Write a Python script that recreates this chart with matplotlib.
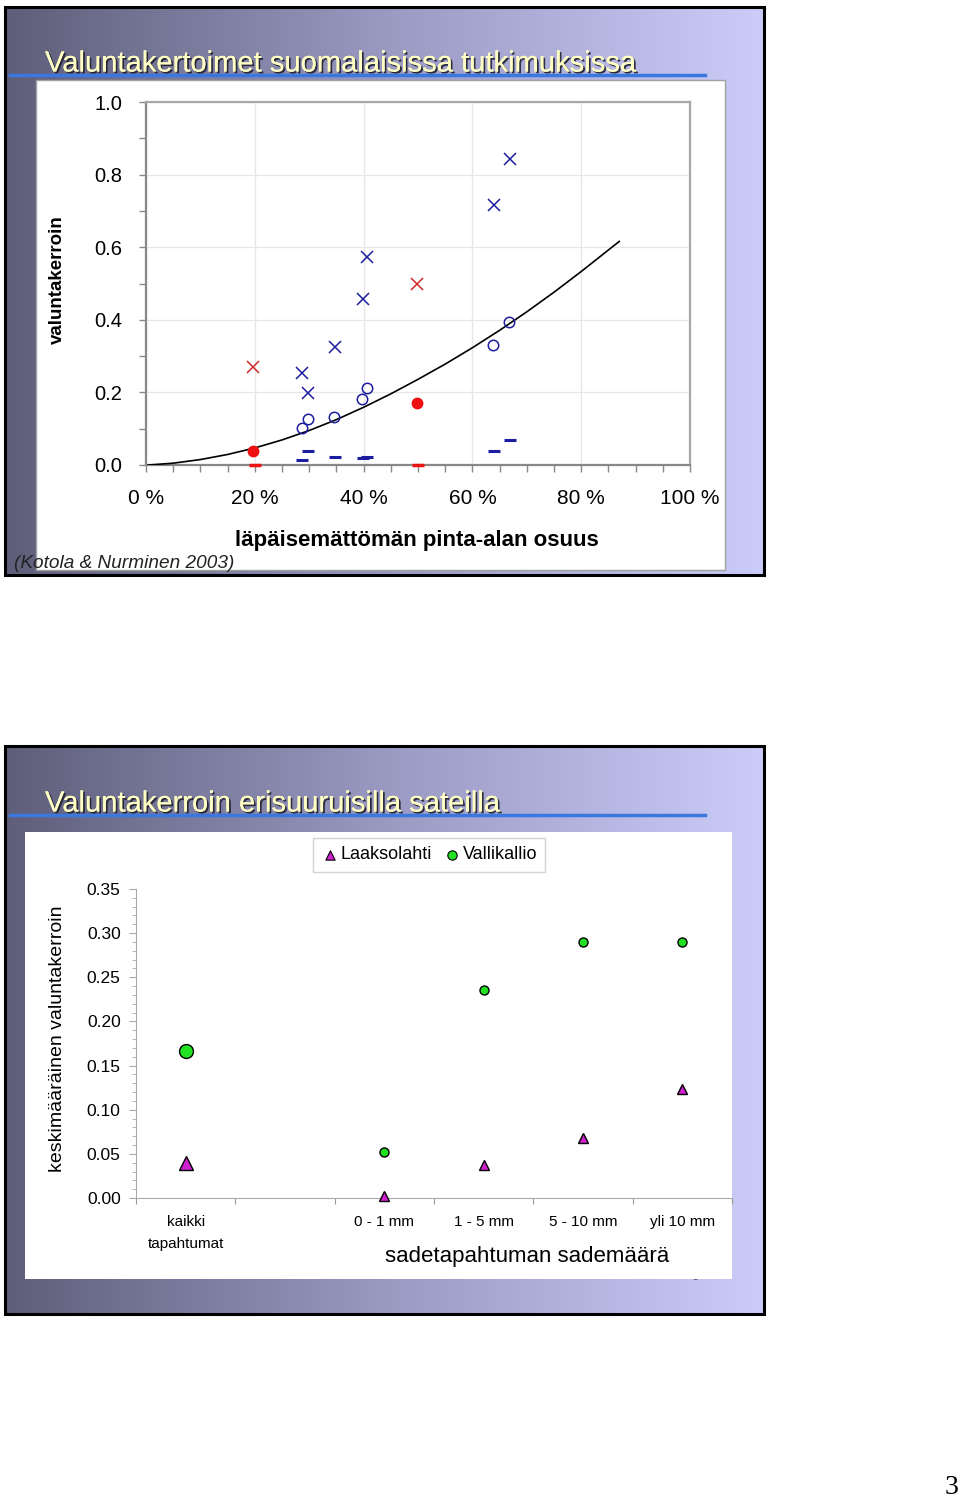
import numpy as np
import matplotlib
matplotlib.use("Agg")
import matplotlib.pyplot as plt
import matplotlib.patheffects as pe
from matplotlib.colors import LinearSegmentedColormap
from matplotlib.patches import Rectangle
from matplotlib.ticker import MultipleLocator, FixedLocator, NullFormatter

W, H = 960, 1498
plt.rcParams['font.family'] = ['Liberation Sans', 'DejaVu Sans']

# --- slide 1: runoff coefficient vs impervious share (%) ---
xcross_blue = [28.6, 29.8, 34.7, 39.8, 40.7, 63.9, 66.9]
ycross_blue = [0.253, 0.199, 0.324, 0.457, 0.574, 0.715, 0.842]
xcross_red = [19.7, 49.9]
ycross_red = [0.271, 0.499]
xring_blue = [28.6, 29.8, 34.6, 39.7, 40.6, 63.8, 66.7]
yring_blue = [0.102, 0.128, 0.133, 0.183, 0.211, 0.330, 0.393]
xdot_red = [19.6, 49.8]
ydot_red = [0.038, 0.172]
xdash_blue = [28.6, 29.8, 34.7, 39.8, 40.7, 63.9, 66.9]
ydash_blue = [0.014, 0.038, 0.023, 0.020, 0.022, 0.038, 0.070]
xdash_red = [20.0, 50.0]
ydash_red = [0.0, 0.0]
curve_x = [0.4, 5, 10, 15, 20, 25, 30, 35, 40, 45, 50, 55, 60, 65, 70, 75, 80, 87]
curve_y = [0.0, 0.005, 0.015, 0.029, 0.047, 0.069, 0.095, 0.125, 0.159, 0.196, 0.236,
           0.278, 0.323, 0.371, 0.422, 0.476, 0.533, 0.616]

# --- slide 2: mean runoff coefficient by rain amount ---
categories = ["kaikki\ntapahtumat", "", "0 - 1 mm", "1 - 5 mm", "5 - 10 mm", "yli 10 mm"]
laaksolahti = [0.040, None, 0.002, 0.037, 0.068, 0.123]
vallikallio = [0.167, None, 0.052, 0.236, 0.290, 0.290]


def box(l, t, r, b):
    return [l / W, 1 - b / H, (r - l) / W, (b - t) / H]


fig = plt.figure(figsize=(W / 100, H / 100), dpi=100)
fig.patch.set_facecolor('white')

bg = fig.add_axes([0, 0, 1, 1])
bg.set_xlim(0, W)
bg.set_ylim(H, 0)
bg.axis('off')

grad = LinearSegmentedColormap.from_list(
    'slide', [(0.37, 0.37, 0.48), (0.60, 0.60, 0.76), (0.80, 0.80, 0.98)])
title_fx = [pe.withSimplePatchShadow(offset=(1.3, -1.3), shadow_rgbFace='#202030', alpha=0.9),
            pe.Normal()]
narrow = ['Liberation Sans Narrow', 'Liberation Sans', 'DejaVu Sans']

for (top, bot, title, ty, ly) in [(7, 575, "Valuntakertoimet suomalaisissa tutkimuksissa", 62, 75),
                                  (746, 1314, "Valuntakerroin erisuuruisilla sateilla", 802, 815)]:
    bg.imshow(np.linspace(0, 1, 256).reshape(1, -1), cmap=grad, aspect='auto',
              extent=(5, 764, bot, top), zorder=0)
    bg.add_patch(Rectangle((5, top), 759, bot - top, fill=False, ec='black', lw=2.2, zorder=5))
    bg.text(45, ty + 1.5, title, fontsize=21, color='#ffffc4', family=narrow,
            va='center', ha='left', path_effects=title_fx, zorder=3)
    bg.plot([10, 705], [ly, ly], color='#3a78e0', lw=2.5, zorder=2)

# white chart panels
bg.add_patch(Rectangle((36, 80), 689, 490, fc='white', ec='#a0a0a0', lw=1, zorder=2))
bg.text(695, 1277, "6", fontsize=9, color='#555555', ha='center', va='center', zorder=1.5)
bg.add_patch(Rectangle((25, 832), 707, 447, fc='white', ec='none', zorder=2))

bg.text(14, 563, "(Kotola & Nurminen 2003)", fontsize=13.7, style='italic', family=narrow,
        color='#222222', ha='left', va='center', zorder=4)
bg.text(951, 1487, "3", fontsize=20, family=['Liberation Serif', 'DejaVu Serif'],
        ha='center', va='center', zorder=4)

# ---- top chart ----
ax1 = fig.add_axes(box(146, 102, 690, 465))
ax1.set_xlim(0, 100)
ax1.set_ylim(0, 1.0)
ax1.plot(curve_x, curve_y, color='black', lw=1.2, zorder=3)
ax1.plot(xcross_blue, ycross_blue, 'x', color='#1c1ca0', ms=8, mew=1.1, zorder=4)
ax1.plot(xcross_red, ycross_red, 'x', color='#d02828', ms=8, mew=1.1, zorder=4)
ax1.plot(xring_blue, yring_blue, 'o', mfc='none', mec='#1c1ca0', ms=7.5, mew=1.1, zorder=4)
ax1.plot(xdot_red, ydot_red, 'o', color='#ee1111', ms=7.5, zorder=4)
ax1.plot(xdash_blue, ydash_blue, '_', color='#1c1ca0', ms=8, mew=2.2, zorder=4)
ax1.plot(xdash_red, ydash_red, '_', color='#ee1111', ms=8, mew=2.5, zorder=4, clip_on=False)
ax1.xaxis.set_minor_locator(MultipleLocator(5))
ax1.yaxis.set_major_locator(MultipleLocator(0.2))
ax1.yaxis.set_minor_locator(MultipleLocator(0.1))
ax1.set_xticks([0, 20, 40, 60, 80, 100])
ax1.set_xticklabels(["0 %", "20 %", "40 %", "60 %", "80 %", "100 %"])
ax1.yaxis.set_major_formatter(matplotlib.ticker.FormatStrFormatter('%.1f'))
ax1.grid(True, which='major', color='#e6e6e6', lw=0.9, zorder=0)
ax1.tick_params(which='both', direction='out', color='#888888', length=5, width=1)
ax1.tick_params(axis='x', labelsize=15, pad=12)
ax1.tick_params(axis='y', labelsize=14.5, pad=12)
for s in ax1.spines.values():
    s.set_color('#a8a8a8')
    s.set_linewidth(1.6)
ax1.spines['left'].set_color('#888888')
ax1.spines['bottom'].set_color('#888888')
ax1.set_zorder(3)
ax1.set_xlabel("läpäisemättömän pinta-alan osuus", fontsize=16, fontweight='bold')
ax1.xaxis.set_label_coords((417 - 146) / 544, -(530 - 465) / 363)
ax1.set_ylabel("valuntakerroin", fontsize=13.5, fontweight='bold')
ax1.yaxis.set_label_coords(-(146 - 66) / 544, (465 - 280) / 363)

# ---- bottom chart ----
ax2 = fig.add_axes(box(136, 889, 732, 1198))
ax2.set_zorder(3)
ax2.patch.set_alpha(0)
ax2.set_xlim(0, len(categories))
ax2.set_ylim(0, 0.35)
for i, (lv, vv) in enumerate(zip(laaksolahti, vallikallio)):
    if lv is None:
        continue
    big = i == 0
    ax2.plot(i + 0.5, vv, 'o', mfc='#22e022', mec='black', mew=1.0,
             ms=10 if big else 6.5, zorder=4, clip_on=False)
    ax2.plot(i + 0.5, lv, '^', mfc='#d020d0', mec='black', mew=1.0,
             ms=9.5 if big else 6.5, zorder=4, clip_on=False)
ax2.xaxis.set_major_locator(FixedLocator(range(len(categories) + 1)))
ax2.xaxis.set_major_formatter(NullFormatter())
ax2.xaxis.set_minor_locator(FixedLocator([i + 0.5 for i in range(len(categories))]))
ax2.set_xticklabels(categories, minor=True, linespacing=1.75)
ax2.tick_params(axis='x', which='minor', length=0, labelsize=11, pad=12)
ax2.tick_params(axis='x', which='major', length=4, color='#999999')
ax2.yaxis.set_major_locator(MultipleLocator(0.05))
ax2.yaxis.set_minor_locator(MultipleLocator(0.01))
ax2.yaxis.set_major_formatter(matplotlib.ticker.FormatStrFormatter('%.2f'))
ax2.tick_params(axis='y', which='both', direction='out', color='#aaaaaa', labelsize=12.5, pad=6)
ax2.tick_params(axis='y', which='major', length=5)
ax2.tick_params(axis='y', which='minor', length=3)
ax2.spines['top'].set_visible(False)
ax2.spines['right'].set_visible(False)
ax2.spines['left'].set_color('#aaaaaa')
ax2.spines['bottom'].set_color('#aaaaaa')
ax2.set_xlabel("sadetapahtuman sademäärä", fontsize=16)
ax2.xaxis.set_label_coords((527 - 136) / 596, -(1246 - 1198) / 309)
ax2.set_ylabel("keskimääräinen valuntakerroin", fontsize=14)
ax2.yaxis.set_label_coords(-(136 - 66) / 596, (1198 - 1039) / 309)

h1 = ax2.scatter([], [], marker='^', s=45, c='#d020d0', edgecolors='black', linewidths=0.8)
h2 = ax2.scatter([], [], marker='o', s=45, c='#22e022', edgecolors='black', linewidths=0.8)
leg = ax2.legend([h1, h2], ["Laaksolahti", "Vallikallio"], ncol=2, loc='center',
                 bbox_to_anchor=(429 / W, 1 - 855 / H), bbox_transform=fig.transFigure,
                 fontsize=13, frameon=True, fancybox=False, handletextpad=0.1,
                 columnspacing=0.6, handlelength=1.0, borderpad=0.45, scatterpoints=1)
leg.get_frame().set_edgecolor('#c8c8c8')
leg.get_frame().set_linewidth(1.0)

fig.savefig("out.png", dpi=100)
